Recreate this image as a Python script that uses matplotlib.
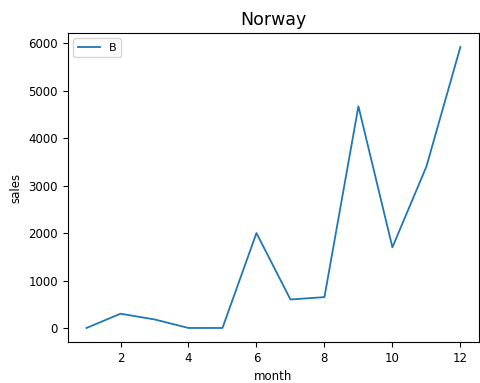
import matplotlib
matplotlib.use("Agg")
import matplotlib.pyplot as plt

months = [1, 2, 3, 4, 5, 6, 7, 8, 9, 10, 11, 12]
sales_B = [0, 300, 180, 0, 0, 2000, 600, 650, 4670, 1700, 3400, 5920]

fig = plt.figure(figsize=(4.81, 3.83), dpi=100)
ax = fig.add_axes([0.141, 0.107, 0.855, 0.807])
ax.plot(months, sales_B, color="#1f77b4", linewidth=1.3, label="B")
ax.set_title("Norway", fontsize=12.5)
ax.set_xlabel("month", fontsize=8.5)
ax.set_ylabel("sales", fontsize=8.5)
ax.tick_params(labelsize=8.5)
ax.legend(loc="upper left", fontsize=8)
fig.savefig("out.png", dpi=100)
